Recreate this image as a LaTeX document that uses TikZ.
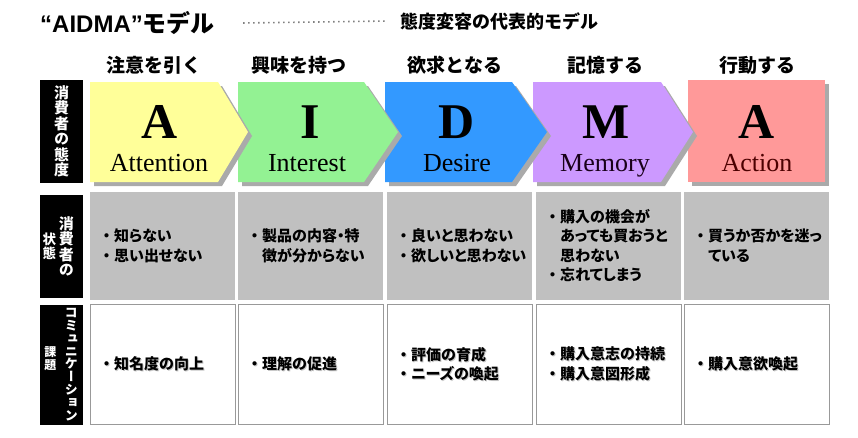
\documentclass[tikz,border=0pt]{standalone}
\usepackage{fontspec}
\setmainfont{Liberation Serif}
\newfontfamily\latsans{Liberation Sans}
\newfontfamily\jpfont{Noto Sans CJK JP}
\newfontfamily\jpbody[RawFeature=+palt]{Noto Sans CJK JP}
\newfontfamily\jpvert[RawFeature=+vert]{Noto Sans CJK JP}
\usetikzlibrary{positioning}
\newcommand\dotitem{\makebox[1em][c]{・}}
\newcommand\shd[1]{\makebox[0pt][l]{\kern1pt\raisebox{-1pt}{\color{black!22}#1}}#1}

\begin{document}
\begin{tikzpicture}[x=1pt,y=-1pt,
  stageshadow/.style={preaction={fill=shadowgray,transform canvas={xshift=4pt,yshift=-4pt}}},
  letter/.style={anchor=base,inner sep=0,font=\bfseries\fontsize{50}{50}\selectfont},
  word/.style={anchor=base,inner sep=0,font=\fontsize{26}{26}\selectfont},
  headline/.style={inner sep=0,font=\jpfont\bfseries\fontsize{19}{19}\selectfont},
  statebox/.style={fill=stategray,anchor=north west,text width=127,inner xsep=9,inner ysep=0,
    minimum height=108,align=left,font=\jpbody\bfseries\fontsize{15}{19.5}\selectfont},
  taskbox/.style={statebox,fill=white,draw=boxgray,minimum height=120},
  labelbox/.style={fill=black,minimum width=43,inner sep=0},
  vtext/.style={text=white,align=center,inner sep=0,font=\jpvert\bfseries\fontsize{15}{15.5}\selectfont}]
\definecolor{AttYellow}{HTML}{FFFF99}
\definecolor{IntGreen}{HTML}{93F293}
\definecolor{DesBlue}{HTML}{3399FF}
\definecolor{MemPurple}{HTML}{CC99FF}
\definecolor{ActPink}{HTML}{FF9999}
\definecolor{shadowgray}{HTML}{AAAAAA}
\definecolor{stategray}{HTML}{C0C0C0}
\definecolor{boxgray}{HTML}{999999}
\definecolor{dotgray}{HTML}{808080}

\useasboundingbox (0,0) rectangle (858,437);

% title line
\node[anchor=west,inner sep=0,font=\fontsize{24}{24}\selectfont] (title) at (40,23)
  {{\latsans\bfseries “AIDMA”}{\jpfont\bfseries モデル}};
\node[anchor=west,inner sep=0,font=\jpfont\bfseries\fontsize{18}{18}\selectfont] (sub) at (400,21)
  {態度変容の代表的モデル};
\draw[dotgray,line width=1.6,dash pattern=on 1.6 off 3.4] ([xshift=28]title.east) -- ([xshift=-12]sub.west);

% headlines
\node[headline] (hA) at (154,65) {注意を引く};
\node[headline] (hI) at (299,65) {興味を持つ};
\node[headline] (hD) at (455,65) {欲求となる};
\node[headline] (hM) at (605,65) {記憶する};
\node[headline] (hAct) at (757,65) {行動する};

% stages, drawn right to left so each tip lies on the next one
\begin{scope}[xshift=688]
\fill[ActPink,stageshadow] (0,80) rectangle (137,182);
\node[letter] (letAct) at (69,138) {A};
\node[word,text=black!70!red] (wordAct) at (69,171) {Action};
\end{scope}

\begin{scope}[xshift=533]
\fill[MemPurple,stageshadow] (0,82) -- (128,82) -- (160,132) -- (128,182) -- (0,182) -- cycle;
\node[letter] (letM) at (73,138) {M};
\node[word,text=black!80!violet] (wordM) at (72,171) {Memory};
\end{scope}

\begin{scope}[xshift=385]
\fill[DesBlue,stageshadow] (0,82) -- (127,82) -- (162,132) -- (127,182) -- (0,182) -- cycle;
\node[letter] (letD) at (72,138) {D};
\node[word] (wordD) at (72,171) {Desire};
\end{scope}

\begin{scope}[xshift=238]
\fill[IntGreen,stageshadow] (0,82) -- (126,82) -- (160,132) -- (126,182) -- (0,182) -- cycle;
\node[letter] (letI) at (72,138) {I};
\node[word] (wordI) at (69,171) {Interest};
\end{scope}

\begin{scope}[xshift=90]
\fill[AttYellow,stageshadow] (0,82) -- (128,82) -- (158,132) -- (128,182) -- (0,182) -- cycle;
\node[letter] (letA) at (70,138) {A};
\node[word] (wordA) at (69,171) {Attention};
\end{scope}

% consumer state
\node[statebox] (sA) at (90,192) {\shd{\dotitem 知らない}\\\shd{\dotitem 思い出せない}};
\node[statebox] (sI) at (238,192) {\shd{\dotitem 製品の内容・特}\\\hspace*{1em}\shd{徴が分からない}};
\node[statebox] (sD) at (387,192) {\shd{\dotitem 良いと思わない}\\\shd{\dotitem 欲しいと思わない}};
\node[statebox] (sM) at (536,192) {\shd{\dotitem 購入の機会が}\\\hspace*{1em}\shd{あっても買おうと}\\\hspace*{1em}\shd{思わない}\\\shd{\dotitem 忘れてしまう}};
\node[statebox] (sAct) at (684,192) {\shd{\dotitem 買うか否かを迷っ}\\\hspace*{1em}\shd{ている}};

% communication tasks
\node[taskbox,below=4pt of sA] (tA) {\shd{\dotitem 知名度の向上}};
\node[taskbox,below=4pt of sI] (tI) {\shd{\dotitem 理解の促進}};
\node[taskbox,below=4pt of sD] (tD) {\shd{\dotitem 評価の育成}\\\shd{\dotitem ニーズの喚起}};
\node[taskbox,below=4pt of sM] (tM) {\shd{\dotitem 購入意志の持続}\\\shd{\dotitem 購入意図形成}};
\node[taskbox,below=4pt of sAct] (tAct) {\shd{\dotitem 購入意欲喚起}};

% row labels
\node[labelbox,vtext,minimum height=103] (lab1) at (61.5,131.5) {消\\費\\者\\の\\態\\度};
\node[labelbox,minimum height=103,left=7pt of sA] (lab2) {};
\node[vtext] (lab2r) at ([xshift=5pt]lab2.center) {消\\費\\者\\の};
\node[vtext,font=\jpvert\bfseries\fontsize{13.5}{14}\selectfont] (lab2l) at ([xshift=-12pt]lab2.center) {状\\態};
\node[labelbox,minimum height=120,left=7pt of tA] (lab3) {};
\node[vtext,font=\jpvert\bfseries\fontsize{13}{12.8}\selectfont] (lab3r) at ([xshift=10pt]lab3.center) {コ\\ミ\\ュ\\ニ\\ケ\\ー\\シ\\ョ\\ン};
\node[vtext,font=\jpvert\bfseries\fontsize{12}{12.5}\selectfont] (lab3l) at ([xshift=-11pt,yshift=6pt]lab3.center) {課\\題};
\end{tikzpicture}
\end{document}
